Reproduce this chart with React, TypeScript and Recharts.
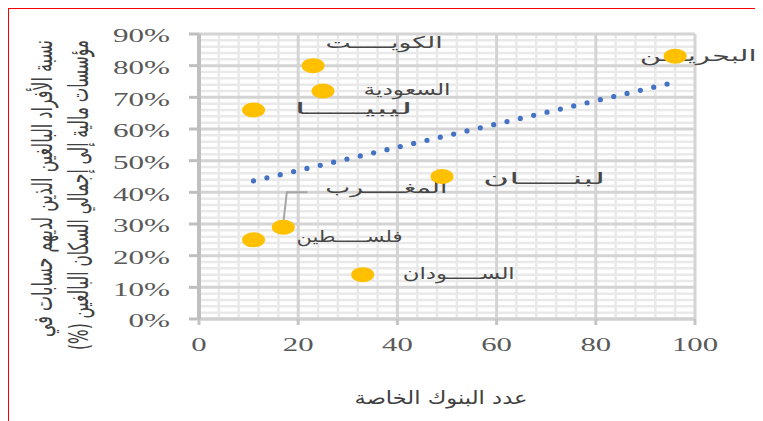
import React from 'react';
import { ScatterChart, Scatter, XAxis, YAxis, CartesianGrid } from 'recharts';

if (typeof document !== 'undefined') {
  document.documentElement.style.overflow = 'hidden';
  document.body.style.overflow = 'hidden';
}

// ---- data ----
const countries = [
  'الكويـــــت',
  'السعودية',
  'ليبيـــــا',
  'البحريـــن',
  'لبنـــــان',
  'المغـــــرب',
  'فلســـــطين',
  'الســـــودان',
];
const privateBanks = [23, 25, 11, 96, 49, 17, 11, 33];
const accountShare = [80, 72, 66, 83, 45, 29, 25, 14];

const trendBanks = [11, 96];
const trendShare = [43.6, 74.8];

const xTicks = [0, 20, 40, 60, 80, 100];
const yTicks = [0, 10, 20, 30, 40, 50, 60, 70, 80, 90];

const yTitleLines = [
  'نسبة الأفراد البالغين الذين لديهم حسابات في',
  'مؤسسات مالية إلى إجمالي السكان البالغين (%)',
];
const xTitle = 'عدد البنوك الخاصة';

// ---- layout (label placement relative to the point, px) ----
const labelLayout = [
  { dx: 71, dy: -17.5, w: 117 },
  { dx: 84, dy: 4, w: 87 },
  { dx: 100, dy: 4, w: 118 },
  { dx: 23, dy: 5, w: 117 },
  { dx: 102, dy: 7, w: 122 },
  { dx: 103, dy: -34, w: 122, leader: true },
  { dx: 96, dy: 2.5, w: 106 },
  { dx: 96, dy: 4, w: 112 },
];

const minorX: number[] = [];
for (let v = 4; v < 100; v += 4) if (v % 20 !== 0) minorX.push(v);
const minorY: number[] = [];
for (let v = 2; v < 90; v += 2) if (v % 10 !== 0) minorY.push(v);

const points = countries.map((name, i) => ({ name, i, x: privateBanks[i], y: accountShare[i] }));
const trend = trendBanks.map((x, i) => ({ x, y: trendShare[i] }));

const arabicFont = '"DejaVu Sans", sans-serif';
const serifStyle = { fontFamily: "'Liberation Serif', 'DejaVu Serif', serif" };

const YTick = (props: any) => {
  const { x, y, payload } = props;
  return (
    <text
      x={x}
      y={y + 8.5}
      textAnchor="end"
      style={serifStyle}
      fontSize={19}
      fill="#595959"
      transform={`translate(${x} 0) scale(1.64 1) translate(${-x} 0)`}
    >
      {`${payload.value}%`}
    </text>
  );
};

const XTick = (props: any) => {
  const { x, y, payload } = props;
  return (
    <text
      x={x}
      y={y + 24.5}
      textAnchor="middle"
      style={serifStyle}
      fontSize={19}
      fill="#595959"
      transform={`translate(${x} 0) scale(1.62 1) translate(${-x} 0)`}
    >
      {payload.value}
    </text>
  );
};

const PointShape = (props: any) => {
  const { cx, cy } = props;
  return <ellipse cx={cx} cy={cy} rx={11.5} ry={7.5} fill="#FFC000" />;
};

const LabelShape = (props: any) => {
  const { cx, cy, payload } = props;
  const L = labelLayout[payload.i];
  return (
    <g>
      {L.leader ? (
        <polyline
          points={`${cx},${cy - 4} ${cx + 3.5},${cy - 35} ${cx + 24},${cy - 35}`}
          fill="none"
          stroke="#a6a6a6"
          strokeWidth={2}
        />
      ) : null}
      <text
        x={cx + L.dx}
        y={cy + L.dy}
        textAnchor="middle"
        direction="rtl"
        fontFamily={arabicFont}
        fontSize={16}
        fill="#474747"
        textLength={L.w}
        lengthAdjust="spacingAndGlyphs"
      >
        {payload.name}
      </text>
    </g>
  );
};

const NoShape = () => <g />;

export default function App() {
  return (
    <div
      style={{
        position: 'relative',
        width: 754,
        height: 412,
        borderTop: '1px solid #ff0000',
        borderLeft: '1px solid #ff0000',
        background: '#ffffff',
        overflow: 'hidden',
      }}
    >
      <ScatterChart width={754} height={412} margin={{ top: 25, right: 68, bottom: 72, left: 0 }}>
        <CartesianGrid
          horizontalValues={minorY}
          verticalValues={minorX}
          stroke="#e9e9e9"
          strokeWidth={2.5}
        />
        <CartesianGrid
          horizontalValues={yTicks}
          verticalValues={xTicks}
          stroke="#d4d4d4"
          strokeWidth={3}
        />
        <XAxis
          type="number"
          dataKey="x"
          domain={[0, 100]}
          ticks={xTicks}
          height={30}
          tickSize={6}
          tickMargin={2}
          tick={<XTick />}
          axisLine={{ stroke: '#d0d0d0', strokeWidth: 3 }}
          tickLine={{ stroke: '#c4c4c4', strokeWidth: 3 }}
          interval={0}
        />
        <YAxis
          type="number"
          dataKey="y"
          domain={[0, 90]}
          ticks={yTicks}
          width={190}
          tickSize={10}
          tickMargin={19}
          tick={<YTick />}
          axisLine={{ stroke: '#bfbfbf', strokeWidth: 4 }}
          tickLine={{ stroke: '#bfbfbf', strokeWidth: 3 }}
          interval={0}
        />
        <Scatter data={points} shape={<LabelShape />} isAnimationActive={false} />
        <Scatter data={points} shape={<PointShape />} isAnimationActive={false} />
        <Scatter
          data={trend}
          shape={<NoShape />}
          line={{ stroke: '#4472C4', strokeWidth: 5.2, strokeDasharray: '0 13.7', strokeLinecap: 'round' }}
          lineType="joint"
          isAnimationActive={false}
        />
      </ScatterChart>
      <svg
        width={754}
        height={412}
        style={{ position: 'absolute', left: 0, top: 0, pointerEvents: 'none' }}
      >
        <text
          transform="translate(43 179.5) rotate(-90) scale(1 1.6)"
          x={0}
          y={0}
          textAnchor="middle"
          direction="rtl"
          fontFamily={arabicFont}
          fontSize={17}
          fill="#404040"
          textLength={297}
          lengthAdjust="spacingAndGlyphs"
        >
          {yTitleLines[0]}
        </text>
        <text
          transform="translate(79 186) rotate(-90) scale(1 1.6)"
          x={0}
          y={0}
          textAnchor="middle"
          direction="rtl"
          fontFamily={arabicFont}
          fontSize={17}
          fill="#404040"
          textLength={310}
          lengthAdjust="spacingAndGlyphs"
        >
          {yTitleLines[1]}
        </text>
        <text
          x={432}
          y={395}
          textAnchor="middle"
          direction="rtl"
          fontFamily={arabicFont}
          fontSize={18}
          fill="#404040"
          textLength={173}
          lengthAdjust="spacingAndGlyphs"
        >
          {xTitle}
        </text>
      </svg>
    </div>
  );
}
